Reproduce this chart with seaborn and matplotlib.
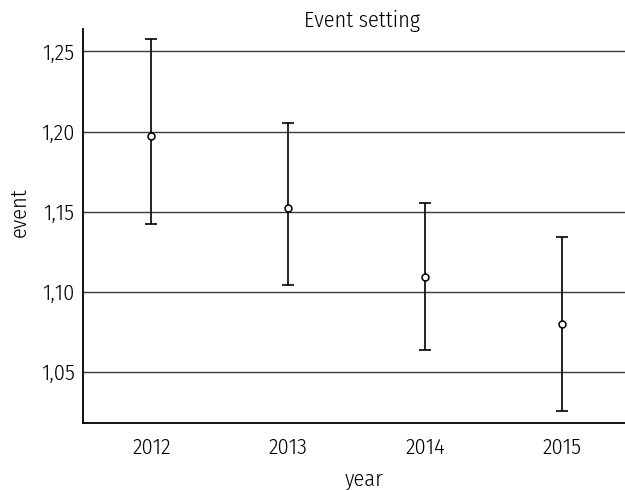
import matplotlib
matplotlib.use("Agg")
import matplotlib.pyplot as plt
import seaborn as sns
import pandas as pd

years = ["2012", "2013", "2014", "2015"]
means = [1.1975, 1.1525, 1.109, 1.080]
upper = [1.258, 1.205, 1.1556, 1.134]
lower = [1.142, 1.1044, 1.0637, 1.0256]
yticks = [1.05, 1.10, 1.15, 1.20, 1.25]

sns.set_theme(style="white")
plt.rcParams["font.family"] = ["Fira Sans Condensed", "DejaVu Sans"]
plt.rcParams["font.weight"] = 300

df = pd.DataFrame({"year": years, "event": means})

fig = plt.figure(figsize=(6.25, 4.9), dpi=100)
ax = fig.add_axes([83 / 625, 1 - 423 / 490, 1 - 83 / 625, (423 - 29) / 490])

for y in yticks:
    ax.axhline(y, color="#3a3a3a", lw=1.0, zorder=1)

pos = list(range(len(years)))
ax.errorbar(pos, means,
            yerr=[[m - l for m, l in zip(means, lower)],
                  [u - m for u, m in zip(upper, means)]],
            fmt="none", ecolor="black", elinewidth=1.2, capsize=4.2,
            capthick=1.2, zorder=2)

sns.pointplot(data=df, x="year", y="event", errorbar=None, linestyle="none",
              markers="o", color="black", ax=ax, zorder=3,
              markerfacecolor="white", markeredgecolor="black",
              markersize=5, markeredgewidth=1.1)

ax.set_xlim(-0.5, 3.46)
ax.set_ylim(1.018, 1.264)
ax.set_yticks(yticks)
ax.set_yticklabels([f"{v:.2f}".replace(".", ",") for v in yticks])
ax.tick_params(axis="both", length=0, labelsize=16, pad=6, colors="black")
ax.tick_params(axis="x", pad=10)

for s in ["top", "right"]:
    ax.spines[s].set_visible(False)
for s in ["left", "bottom"]:
    ax.spines[s].set_color("black")
    ax.spines[s].set_linewidth(1.3)

ax.set_xlabel("")
ax.set_ylabel("")
fig.text(362 / 625, 1 - 21 / 490, "Event setting", ha="center", va="center",
         fontsize=16, color="black")
fig.text(364 / 625, 1 - 479 / 490, "year", ha="center", va="center",
         fontsize=16, color="black")
fig.text(19 / 625, 1 - 212 / 490, "event", ha="center", va="center",
         rotation=90, fontsize=16, color="black")

fig.savefig("out.png", dpi=100, facecolor="white")
